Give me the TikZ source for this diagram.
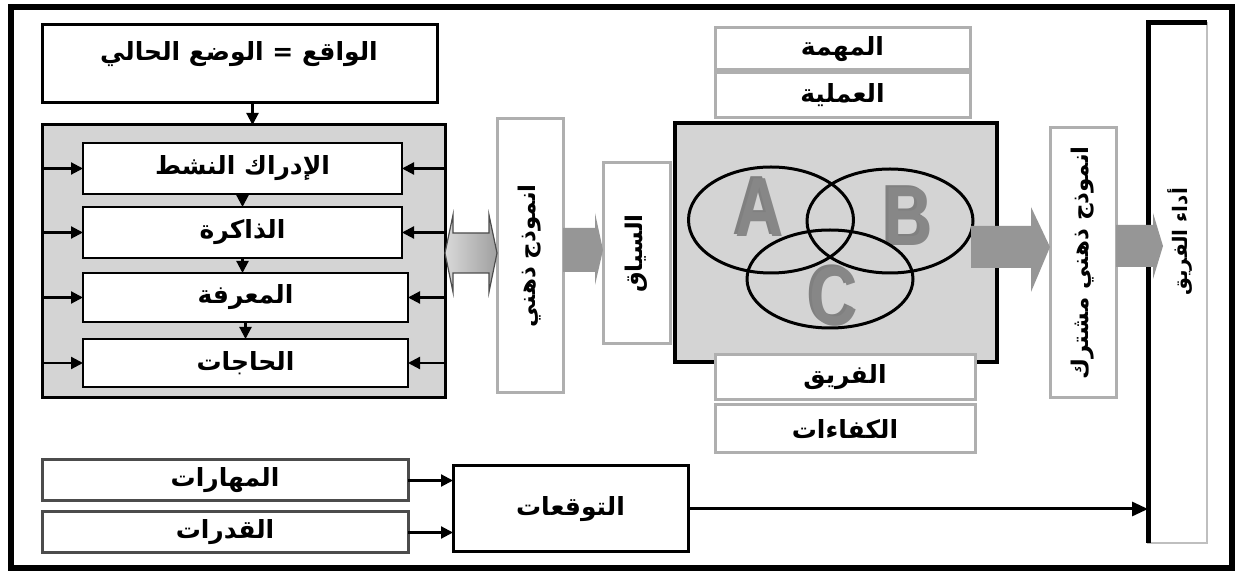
\documentclass[tikz,border=0pt]{standalone}
\usepackage{fontspec}
\usepackage{graphicx}
\usetikzlibrary{calc,arrows.meta}
\TeXXeTstate=1
\newfontfamily\ar[Script=Arabic]{DejaVu Sans}
\newfontfamily\letf{Liberation Sans}
\definecolor{boxgray}{RGB}{212,212,212}
\definecolor{arrgray}{RGB}{150,150,150}
\definecolor{lettergray}{RGB}{135,135,135}
\definecolor{framegray}{RGB}{175,175,175}
\newcommand\bx[7]{%
  \pgfmathsetmacro\bxw{(#4-#2)*0.5}%
  \pgfmathsetmacro\bxh{(#5-#3)*0.5}%
  \node[#6, minimum width=\bxw pt, minimum height=\bxh pt] (#1) at ({(#2+#4)/2},{(#3+#5)/2}) {#7};}
\newcommand\rtl[1]{\beginR #1\endR}
\newcommand\vrt[1]{\rotatebox{90}{\fontsize{11.5}{13}\selectfont\beginR #1\endR}}
\newcommand\lt[1]{\scalebox{0.8}[1]{#1}}
\begin{document}
\begin{tikzpicture}[x=0.5pt,y=-0.5pt,
  every node/.style={inner sep=0pt, outer sep=0pt},
  lab/.style={font=\ar\bfseries\fontsize{12.5}{14}\selectfont},
  blk/.style={draw=black, line width=1.5pt, fill=white, lab},
  gfr/.style={draw=framegray, line width=1.5pt, fill=white, lab},
  dfr/.style={draw=black!70, line width=1.5pt, fill=white, lab},
  tarr/.style={line width=1.1pt, -{Triangle[length=6pt,width=6pt]}},
  barr/.style={fill=arrgray},
  letter/.style={font=\letf\bfseries\fontsize{42}{42}\selectfont, text=lettergray},
  lshadow/.style={font=\letf\bfseries\fontsize{42}{42}\selectfont, text=black!50}]
\useasboundingbox (0,0) rectangle (1238,571);
\fill[white] (0,0) rectangle (1238,571);
\draw[line width=3pt] (11,7) rectangle (1232,568);

% left column
\bx{top}{42}{25}{437}{103}{blk}{}
\node[lab] (toptxt) at (239,54) {\rtl{الواقع = الوضع الحالي}};
\bx{gry}{42}{125}{445}{398}{blk, fill=boxgray}{}
\bx{b1}{83}{143}{402}{194}{blk, line width=1.2pt}{\rtl{الإدراك النشط}}
\bx{b2}{83}{207}{402}{258}{blk, line width=1.2pt}{\rtl{الذاكرة}}
\bx{b3}{83}{273}{408}{322}{blk, line width=1.2pt}{\rtl{المعرفة}}
\bx{b4}{83}{339}{408}{387}{blk, line width=1.2pt}{\rtl{الحاجات}}
\path (top.south) ++(13,0) coordinate (t1);
\draw[tarr] (t1) -- (t1 |- gry.north);
\draw[tarr] (b1.south) -- (b1.south |- b2.north);
\draw[tarr] (b2.south) -- (b2.south |- b3.north);
\draw[tarr] (b3.south) -- (b3.south |- b4.north);
\foreach \b in {b1,b2,b3,b4}{
  \draw[tarr] (gry.west |- \b.west) -- (\b.west);
  \draw[tarr] (gry.east |- \b.east) -- (\b.east);
}

% mental model
\bx{mm}{497}{119}{563}{393}{gfr}{\vrt{انموذج ذهني}}
\bx{ctx}{603}{163}{670}{344}{gfr}{\vrt{السياق}}

% double arrow
\path (gry.east) ++(0,-8.5) coordinate (dl);
\path (mm.west) ++(0,-3) coordinate (dr);
\draw[left color=gray!30, right color=gray!75, draw=black!70, line width=0.6pt]
  (dl) -- ($(dl)+(8,-38)$) -- ($(dl)+(8,-20)$) -- ($(dr)+(-8,-20)$) -- ($(dr)+(-8,-38)$)
  -- (dr) -- ($(dr)+(-8,39)$) -- ($(dr)+(-8,20)$) -- ($(dl)+(8,20)$) -- ($(dl)+(8,39)$) -- cycle;

% arrow mm -> ctx
\path (ctx.west) ++(0,-3.5) coordinate (c1);
\fill[barr] ($(mm.east |- c1)+(0,-22)$) -- ($(c1)+(-8,-22)$) -- ($(c1)+(-8,-37)$) -- (c1)
  -- ($(c1)+(-8,35)$) -- ($(c1)+(-8,22)$) -- ($(mm.east |- c1)+(0,22)$) -- cycle;

% venn block
\bx{ven}{675}{123}{997}{362}{blk, fill=boxgray, line width=2pt}{}
\bx{tsk}{715}{28}{970}{70}{gfr}{\rtl{المهمة}}
\bx{prc}{715}{73}{970}{118}{gfr}{\rtl{العملية}}
\bx{team}{715}{355}{975}{400}{gfr}{\rtl{الفريق}}
\bx{comp}{715}{405}{975}{453}{gfr}{\rtl{الكفاءات}}

\node[lshadow] (As) at (757,206) {\lt{A}};
\node[letter] (A) at (760,208) {\lt{A}};
\node[lshadow] (Bs) at (906,215) {\lt{B}};
\node[letter] (B) at (909,217) {\lt{B}};
\node[lshadow] (Cs) at (831,295) {\lt{C}};
\node[letter] (C) at (834,297) {\lt{C}};
\draw[line width=1.5pt] (771,220) ellipse [x radius=41.25pt, y radius=26.5pt];
\draw[line width=1.5pt] (890,221) ellipse [x radius=41.5pt, y radius=26pt];
\draw[line width=1.5pt] (830,279) ellipse [x radius=41.5pt, y radius=24.5pt];

% shared model
\bx{shr}{1050}{128}{1116}{398}{gfr}{\vrt{انموذج ذهني مشترك}}
\path (shr.west) ++(0,-16) coordinate (c2);
\fill[barr] ($(ven.east |- c2)+(-26,-21)$) -- ($(c2)+(-19,-21)$) -- ($(c2)+(-19,-40)$) -- (c2)
  -- ($(c2)+(-19,45)$) -- ($(c2)+(-19,21)$) -- ($(ven.east |- c2)+(-26,21)$) -- cycle;

% performance
\bx{perf}{1148}{23}{1207}{543}{draw=black!25, line width=0.8pt, fill=white}{}
\draw[line width=2.5pt] (perf.south west) -- (perf.north west) -- (perf.north east);
\node[lab] (perftxt) at (1180,242) {\rotatebox{90}{\fontsize{10}{12}\selectfont\beginR أداء الفريق\endR}};
\path (perf.west) ++(15,-37) coordinate (c3);
\fill[barr] ($(shr.east |- c3)+(0,-21)$) -- ($(c3)+(-10,-21)$) -- ($(c3)+(-10,-33)$) -- (c3)
  -- ($(c3)+(-10,33)$) -- ($(c3)+(-10,21)$) -- ($(shr.east |- c3)+(0,21)$) -- cycle;

% bottom row
\bx{mh}{42}{460}{408}{501}{dfr}{\rtl{المهارات}}
\bx{qd}{42}{512}{408}{553}{dfr}{\rtl{القدرات}}
\bx{exp}{453}{466}{688}{552}{blk}{\rtl{التوقعات}}
\draw[tarr] (mh.east) -- (exp.west |- mh.east);
\draw[tarr] (qd.east) -- (exp.west |- qd.east);
\draw[line width=1.5pt, -{Triangle[length=8pt,width=7pt]}] (exp.east) -- (perf.west |- exp.east);
\end{tikzpicture}
\end{document}
